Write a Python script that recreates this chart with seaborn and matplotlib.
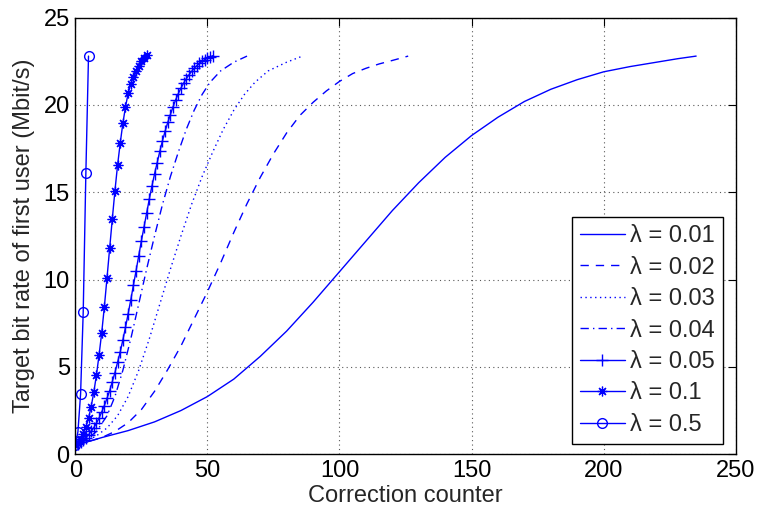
import numpy as np
import pandas as pd
import matplotlib
matplotlib.use("Agg")
import matplotlib.pyplot as plt
import seaborn as sns

# Correction counter (x) and target bit rate in Mbit/s (y) for each step size
x_001 = [0, 10, 20, 30, 40, 50, 60, 70, 80, 90, 100, 110, 120, 130, 140, 150,
         160, 170, 180, 190, 200, 210, 220, 228, 235]
y_001 = [0.5, 0.95, 1.35, 1.85, 2.5, 3.3, 4.3, 5.6, 7.05, 8.7, 10.45, 12.2, 13.95,
         15.55, 17.0, 18.25, 19.3, 20.2, 20.9, 21.45, 21.9, 22.2, 22.45, 22.65, 22.8]

x_002 = [0, 10, 15, 20, 25, 30, 35, 40, 45, 50, 55, 60, 65, 70, 75, 80, 85, 90,
         95, 100, 105, 110, 115, 120, 126]
y_002 = [0.5, 0.95, 1.3, 1.8, 2.55, 3.6, 4.85, 6.2, 7.75, 9.3, 10.95, 12.7, 14.35,
         15.85, 17.2, 18.4, 19.4, 20.15, 20.8, 21.35, 21.8, 22.1, 22.35, 22.55, 22.8]

x_003 = [0, 4, 8, 12, 16, 20, 24, 28, 32, 36, 40, 44, 48, 52, 56, 60, 64, 68, 73,
         80, 86]
y_003 = [0.5, 0.72, 1.05, 1.5, 2.2, 3.3, 4.8, 6.6, 8.6, 10.6, 12.5, 14.3, 15.9, 17.3,
         18.6, 19.7, 20.6, 21.3, 21.95, 22.45, 22.8]

x_004 = [0, 4, 8, 12, 15, 18, 21, 24, 27, 30, 33, 36, 39, 42, 45, 48, 51, 55, 60, 65]
y_004 = [0.5, 0.8, 1.3, 2.2, 3.3, 4.8, 6.6, 8.6, 10.6, 12.5, 14.3, 15.9, 17.3, 18.6,
         19.7, 20.6, 21.3, 21.95, 22.45, 22.8]

x_005 = list(range(0, 53))
y_005 = [0.5, 0.59, 0.69, 0.81, 0.95, 1.11, 1.3, 1.52, 1.77, 2.07,
         2.42, 2.78, 3.2, 3.63, 4.15, 4.67, 5.26, 5.85, 6.54, 7.26,
         8.04, 8.83, 9.68, 10.5, 11.36, 12.2, 13.0, 13.8, 14.6, 15.35,
         16.05, 16.7, 17.35, 17.95, 18.5, 19.0, 19.45, 19.9, 20.3, 20.65,
         20.97, 21.25, 21.5, 21.72, 21.92, 22.1, 22.25, 22.38, 22.5, 22.6,
         22.68, 22.75, 22.82]

x_01 = list(range(0, 28))
y_01 = [0.5, 0.66, 0.87, 1.16, 1.54, 2.05, 2.72, 3.54, 4.53, 5.68,
        6.96, 8.44, 10.09, 11.78, 13.46, 15.08, 16.55, 17.81, 18.94, 19.89,
        20.66, 21.2, 21.6, 21.95, 22.25, 22.5, 22.7, 22.85]

x_05 = [0, 1, 2, 3, 4, 5]
y_05 = [0.5, 1.29, 3.43, 8.15, 16.1, 22.8]

labels = ["λ = 0.01", "λ = 0.02", "λ = 0.03", "λ = 0.04", "λ = 0.05", "λ = 0.1", "λ = 0.5"]
xs = [x_001, x_002, x_003, x_004, x_005, x_01, x_05]
ys = [y_001, y_002, y_003, y_004, y_005, y_01, y_05]

styles = [
    dict(linestyle="-", marker="None"),
    dict(linestyle=(0, (6, 5)), marker="None"),
    dict(linestyle=(0, (1, 2.5)), marker="None"),
    dict(linestyle=(0, (6, 3, 1, 3)), marker="None"),
    dict(linestyle="-", marker="+", markersize=8, markeredgewidth=1.0),
    dict(linestyle="-", marker=(8, 2, 0), markersize=7, markeredgewidth=0.9),
    dict(linestyle="-", marker="o", markersize=7, markerfacecolor="none",
         markeredgewidth=1.0),
]

sns.set_theme(style="white")
plt.rcParams["font.family"] = ["Liberation Sans", "DejaVu Sans"]

fig = plt.figure(figsize=(7.59, 5.11), dpi=100)
ax = fig.add_axes([0.0992, 0.1112, 0.8702, 0.8542])

blue = (0, 0, 1)
handles = []
for xv, yv, lab, st in zip(xs, ys, labels, styles):
    df = pd.DataFrame({"x": xv, "y": yv})
    n_before = len(ax.lines)
    sns.lineplot(data=df, x="x", y="y", ax=ax, color=blue, linewidth=1.0,
                 sort=False, estimator=None, legend=False)
    line = ax.lines[n_before]
    line.set_label(lab)
    line.set_color(blue)
    line.set_markeredgecolor(blue)
    for k, v in st.items():
        getattr(line, "set_" + k)(v)
    handles.append(line)

ax.set_xlim(0, 250)
ax.set_ylim(0, 25)
ax.set_xticks(np.arange(0, 251, 50))
ax.set_yticks(np.arange(0, 26, 5))
ax.grid(True, linestyle=(0, (1, 3)), color="0.35", linewidth=0.8)
ax.tick_params(direction="in", top=True, right=True, length=6, width=0.8,
               labelsize=17, colors="black", pad=4)
for sp in ax.spines.values():
    sp.set_color("black")
    sp.set_linewidth(1.0)

ax.set_xlabel("Correction counter", fontsize=17, labelpad=2)
ax.set_ylabel("Target bit rate of first user (Mbit/s)", fontsize=17, labelpad=6)

leg = ax.legend(handles=handles, labels=labels, loc="lower right",
                bbox_to_anchor=(0.980, 0.023), borderaxespad=0,
                fontsize=17, frameon=True, fancybox=False, framealpha=1,
                edgecolor="black", handlelength=1.9, handletextpad=0.2,
                labelspacing=0.4, borderpad=0.35)
leg.get_frame().set_linewidth(1.0)

fig.savefig("out.png", dpi=100)
